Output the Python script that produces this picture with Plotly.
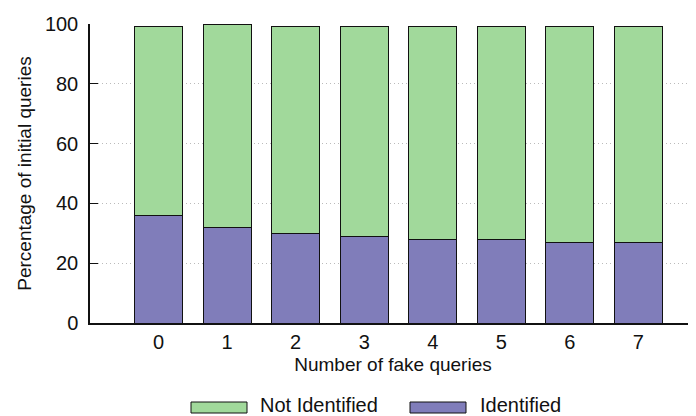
import plotly.graph_objects as go

categories = [0, 1, 2, 3, 4, 5, 6, 7]
identified = [36, 32, 30, 29, 28, 28, 27, 27]
not_identified = [63, 68, 69, 70, 71, 71, 72, 72]
y_ticks = [0, 20, 40, 60, 80, 100]

green = "#a1d99b"
purple = "#807dba"
family = "Liberation Sans, Arial, Helvetica, sans-serif"
font = dict(family=family, size=19, color="#111")
tick_font = dict(family=family, size=20, color="#111")
legend_font = dict(family=family, size=20, color="#111")

W, H = 688, 408
L, T, B = 82, 16, 93
PW, PH = W - L, H - T - B

fig = go.Figure()
fig.add_bar(x=categories, y=identified, name="Identified", width=0.7,
            marker=dict(color=purple, line=dict(color="#111", width=1)))
fig.add_bar(x=categories, y=not_identified, name="Not Identified", width=0.7,
            marker=dict(color=green, line=dict(color="#111", width=1)))

fig.update_layout(
    barmode="stack", width=W, height=H,
    margin=dict(l=L, r=0, t=T, b=B, pad=0),
    plot_bgcolor="white", paper_bgcolor="white",
    font=font, showlegend=False,
)
fig.update_xaxes(range=[-1, 7.84], tickmode="array", tickvals=categories,
                 ticktext=[str(c) for c in categories], tickfont=tick_font,
                 showline=True, linecolor="#111", linewidth=1.5, ticks="",
                 showgrid=False, zeroline=False,
                 title=dict(text="Number of fake queries", standoff=6, font=font))
fig.update_yaxes(range=[0, 100], tickmode="array", tickvals=y_ticks, tickfont=tick_font,
                 showline=True, linecolor="#111", linewidth=1.5,
                 ticks="inside", ticklen=8, tickcolor="#111", ticklabelstandoff=6,
                 showgrid=True, gridcolor="#bbbbbb", griddash="1px,3px", gridwidth=1,
                 zeroline=False,
                 title=dict(text="Percentage of initial queries", standoff=8, font=font))

# manual legend (wide rectangles like the reference), positions in figure pixels
def px(x):
    return (x - L) / PW

def py(y):
    return (T + PH - y) / PH

legend_items = [("Not Identified", green, 183, 250), ("Identified", purple, 402, 470)]
for label, color, x0, tx in legend_items:
    fig.add_shape(type="rect", xref="paper", yref="paper",
                  x0=px(x0), x1=px(x0 + 56), y0=py(405), y1=py(394),
                  fillcolor=color, line=dict(color="#111", width=1))
    fig.add_annotation(text=label, xref="paper", yref="paper",
                       x=px(tx), y=py(397), xanchor="left", yanchor="middle",
                       showarrow=False, font=legend_font)

fig.write_html("out.html")
